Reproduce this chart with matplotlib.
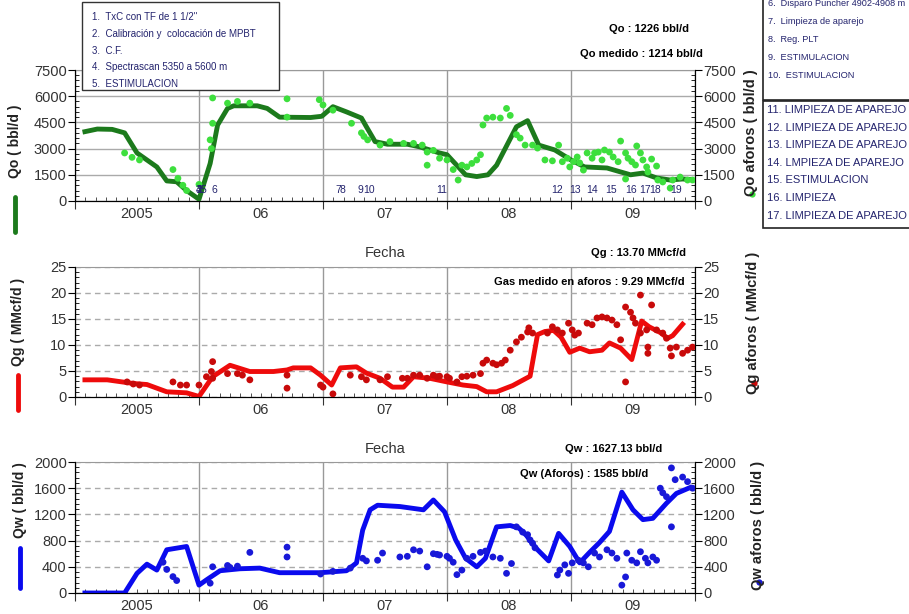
import matplotlib
matplotlib.use('Agg')
import matplotlib.pyplot as plt
from matplotlib.lines import Line2D
from matplotlib.patches import Rectangle
from matplotlib.ticker import MultipleLocator, FixedLocator, NullFormatter
import numpy as np

plt.rcParams['font.family'] = ['Liberation Sans', 'DejaVu Sans']

# ---- data (decimal year, value) ----
years = [2005, 2006, 2007, 2008, 2009]
year_labels = ['2005', '06', '07', '08', '09']

qo_line = [
    (2005.08, 3970), (2005.18, 4120), (2005.30, 4100), (2005.40, 3900), (2005.50, 2750),
    (2005.66, 1950), (2005.74, 1150), (2005.82, 1100), (2005.90, 600), (2006.00, 100),
    (2006.09, 2150), (2006.15, 4350), (2006.23, 5300), (2006.28, 5450), (2006.47, 5450),
    (2006.55, 5300), (2006.65, 4800), (2006.90, 4780), (2006.99, 4850), (2007.08, 5400),
    (2007.19, 5100), (2007.31, 4750), (2007.35, 4250), (2007.42, 3400), (2007.52, 3250),
    (2007.68, 3250), (2007.78, 3100), (2007.94, 2750), (2008.00, 2650), (2008.15, 1500),
    (2008.24, 1400), (2008.33, 1500), (2008.40, 2050), (2008.56, 4250), (2008.65, 4600),
    (2008.74, 3200), (2008.87, 2920), (2009.00, 2350), (2009.11, 1950), (2009.29, 1890),
    (2009.48, 1500), (2009.58, 1600), (2009.69, 1320), (2009.80, 1200), (2009.90, 1260),
    (2009.97, 1226),
]
qo_aforos = [
    (2005.40, 2750), (2005.46, 2500), (2005.52, 2350), (2005.79, 1800), (2005.83, 1300),
    (2005.87, 900), (2005.90, 600), (2006.00, 950), (2006.09, 3500), (2006.10, 3000),
    (2006.11, 4450), (2006.11, 5900), (2006.23, 5600), (2006.31, 5700), (2006.41, 5600),
    (2006.71, 5850), (2006.71, 4800), (2006.97, 5800), (2007.00, 5500), (2007.08, 5200),
    (2007.23, 4450), (2007.31, 3900), (2007.33, 3700), (2007.36, 3500), (2007.46, 3200),
    (2007.54, 3400), (2007.65, 3300), (2007.73, 3300), (2007.80, 3200), (2007.84, 2800),
    (2007.84, 2050), (2007.89, 2900), (2007.94, 2450), (2008.00, 2350), (2008.05, 1800),
    (2008.09, 1200), (2008.12, 2050), (2008.16, 1950), (2008.20, 2150), (2008.24, 2350),
    (2008.27, 2650), (2008.29, 4350), (2008.32, 4750), (2008.37, 4800), (2008.43, 4750),
    (2008.48, 5300), (2008.51, 4900), (2008.56, 3800), (2008.59, 3600), (2008.63, 3200),
    (2008.69, 3200), (2008.73, 3030), (2008.79, 2350), (2008.85, 2300), (2008.90, 3200),
    (2008.93, 2250), (2008.97, 2450), (2008.99, 1950), (2009.02, 2250), (2009.05, 2520),
    (2009.07, 2180), (2009.10, 1770), (2009.13, 2750), (2009.17, 2450), (2009.19, 2750),
    (2009.22, 2800), (2009.25, 2350), (2009.27, 2920), (2009.31, 2800), (2009.34, 2520),
    (2009.38, 2250), (2009.40, 3430), (2009.44, 2750), (2009.44, 1260), (2009.46, 2450),
    (2009.49, 2250), (2009.52, 2060), (2009.53, 3150), (2009.56, 2750), (2009.58, 2350),
    (2009.61, 1950), (2009.62, 1660), (2009.65, 2400), (2009.69, 2000), (2009.70, 1200),
    (2009.74, 1090), (2009.80, 740), (2009.82, 1200), (2009.88, 1370), (2009.94, 1200),
    (2009.98, 1200),
]

qg_line = [
    (2005.08, 3.3), (2005.26, 3.3), (2005.47, 2.6), (2005.58, 2.4), (2005.74, 1.0),
    (2005.90, 0.8), (2006.00, 0.1), (2006.11, 3.9), (2006.25, 6.1), (2006.41, 4.9),
    (2006.60, 4.9), (2006.71, 5.2), (2006.76, 5.6), (2006.90, 5.6), (2006.98, 4.2),
    (2007.07, 2.3), (2007.14, 5.6), (2007.27, 5.8), (2007.35, 4.6), (2007.46, 3.6),
    (2007.56, 1.9), (2007.65, 1.9), (2007.73, 3.9), (2007.86, 3.6), (2008.00, 2.9),
    (2008.13, 2.3), (2008.24, 2.0), (2008.32, 1.0), (2008.40, 1.0), (2008.53, 2.2),
    (2008.67, 4.0), (2008.73, 12.0), (2008.79, 12.6), (2008.86, 12.8), (2008.92, 11.5),
    (2008.99, 8.6), (2009.07, 9.4), (2009.15, 8.7), (2009.25, 9.0), (2009.31, 10.4),
    (2009.40, 9.4), (2009.49, 7.2), (2009.57, 14.6), (2009.63, 13.5), (2009.72, 12.4),
    (2009.78, 11.3), (2009.82, 11.8), (2009.90, 14.0),
]
qg_aforos = [
    (2005.42, 2.9), (2005.47, 2.5), (2005.52, 2.3), (2005.79, 2.9), (2005.85, 2.3),
    (2005.90, 2.3), (2006.00, 2.3), (2006.06, 3.9), (2006.10, 4.9), (2006.11, 6.8),
    (2006.11, 3.6), (2006.23, 4.5), (2006.31, 4.5), (2006.35, 4.2), (2006.41, 3.3),
    (2006.71, 4.2), (2006.71, 1.7), (2006.98, 2.3), (2007.00, 1.9), (2007.08, 0.6),
    (2007.22, 4.2), (2007.31, 3.9), (2007.35, 3.3), (2007.46, 3.3), (2007.52, 3.9),
    (2007.64, 3.6), (2007.68, 3.6), (2007.73, 4.2), (2007.78, 4.2), (2007.84, 3.6),
    (2007.89, 4.2), (2007.92, 3.9), (2007.94, 4.0), (2008.00, 3.9), (2008.02, 3.6),
    (2008.08, 2.9), (2008.12, 3.9), (2008.16, 4.0), (2008.21, 4.2), (2008.27, 4.5),
    (2008.29, 6.5), (2008.32, 7.1), (2008.37, 6.5), (2008.40, 6.2), (2008.44, 6.5),
    (2008.47, 7.1), (2008.51, 9.0), (2008.56, 10.6), (2008.60, 11.5), (2008.65, 12.5),
    (2008.66, 13.3), (2008.69, 12.3), (2008.81, 12.3), (2008.85, 13.5), (2008.89, 12.9),
    (2008.93, 12.3), (2008.98, 14.2), (2009.01, 12.9), (2009.03, 11.9), (2009.06, 12.3),
    (2009.13, 14.2), (2009.17, 13.9), (2009.21, 15.2), (2009.25, 15.4), (2009.29, 15.2),
    (2009.33, 14.8), (2009.37, 13.9), (2009.40, 11.0), (2009.44, 17.3), (2009.48, 16.3),
    (2009.44, 2.9), (2009.50, 15.2), (2009.52, 14.2), (2009.56, 19.6), (2009.56, 12.3),
    (2009.61, 12.9), (2009.62, 9.6), (2009.62, 8.4), (2009.65, 17.7), (2009.69, 12.9),
    (2009.74, 12.3), (2009.77, 11.3), (2009.80, 9.4), (2009.81, 7.9), (2009.85, 9.6),
    (2009.90, 8.4), (2009.94, 9.0), (2009.98, 9.6),
]

qw_line = [
    (2005.08, 0), (2005.40, 0), (2005.50, 300), (2005.58, 440), (2005.66, 350),
    (2005.74, 660), (2005.90, 710), (2006.00, 120), (2006.06, 200), (2006.17, 340),
    (2006.33, 370), (2006.49, 380), (2006.65, 310), (2006.98, 310), (2007.19, 340),
    (2007.27, 460), (2007.32, 960), (2007.38, 1270), (2007.44, 1340), (2007.62, 1320),
    (2007.81, 1270), (2007.89, 1420), (2007.98, 1240), (2008.07, 810), (2008.15, 530),
    (2008.24, 400), (2008.31, 530), (2008.40, 1010), (2008.51, 1030), (2008.58, 990),
    (2008.64, 880), (2008.72, 680), (2008.82, 490), (2008.90, 910), (2008.99, 710),
    (2009.07, 460), (2009.15, 620), (2009.23, 770), (2009.31, 940), (2009.41, 1540),
    (2009.50, 1270), (2009.58, 1120), (2009.66, 1140), (2009.77, 1370), (2009.85, 1520),
    (2009.96, 1610),
]
qw_aforos = [
    (2005.71, 470), (2005.74, 360), (2005.79, 250), (2005.82, 190), (2006.09, 150),
    (2006.11, 400), (2006.23, 420), (2006.25, 390), (2006.31, 410), (2006.41, 620),
    (2006.71, 700), (2006.71, 550), (2006.98, 290), (2007.08, 330), (2007.22, 380),
    (2007.32, 530), (2007.35, 490), (2007.44, 500), (2007.48, 610), (2007.62, 550),
    (2007.68, 560), (2007.73, 660), (2007.78, 640), (2007.84, 400), (2007.89, 600),
    (2007.92, 590), (2007.94, 580), (2008.00, 560), (2008.02, 530), (2008.05, 470),
    (2008.08, 280), (2008.12, 350), (2008.16, 530), (2008.21, 560), (2008.27, 620),
    (2008.31, 640), (2008.37, 550), (2008.43, 530), (2008.48, 300), (2008.52, 450),
    (2008.56, 1010), (2008.61, 930), (2008.65, 890), (2008.67, 810), (2008.69, 760),
    (2008.71, 690), (2008.89, 275), (2008.91, 350), (2008.95, 430), (2008.98, 300),
    (2009.01, 460), (2009.06, 500), (2009.10, 460), (2009.14, 400), (2009.19, 610),
    (2009.23, 550), (2009.29, 660), (2009.33, 610), (2009.37, 530), (2009.41, 120),
    (2009.44, 245), (2009.45, 610), (2009.49, 500), (2009.53, 460), (2009.56, 630),
    (2009.60, 530), (2009.62, 460), (2009.66, 550), (2009.69, 500), (2009.72, 1600),
    (2009.74, 1530), (2009.77, 1470), (2009.81, 1910), (2009.81, 1010), (2009.84, 1730),
    (2009.90, 1770), (2009.94, 1700), (2009.98, 1600),
]

event_nums = ['1', '2', '3', '4', '5', '6', '7', '8', '9', '10', '11', '12', '13',
              '14', '15', '16', '17', '18', '19']
event_dates = [2006.00, 2006.00, 2006.00, 2006.00, 2006.035, 2006.12, 2007.12, 2007.16,
               2007.30, 2007.37, 2007.96, 2008.89, 2009.03, 2009.17, 2009.32, 2009.48,
               2009.60, 2009.68, 2009.85]

box1_items = ['1.  TxC con TF de 1 1/2"', '2.  Calibración y  colocación de MPBT', '3.  C.F.',
              '4.  Spectrascan 5350 a 5600 m', '5.  ESTIMULACION']
box2_items = ['6.  Disparo Puncher 4902-4908 m', '7.  Limpieza de aparejo', '8.  Reg. PLT',
              '9.  ESTIMULACION', '10.  ESTIMULACION']
box3_items = ['11. LIMPIEZA DE APAREJO', '12. LIMPIEZA DE APAREJO', '13. LIMPIEZA DE APAREJO',
              '14. LMPIEZA DE APAREJO', '15. ESTIMULACION', '16. LIMPIEZA',
              '17. LIMPIEZA DE APAREJO']

W, H = 909, 614
NAVY = '#24246e'


def fx(x):
    return x / W


def fy(y):
    return 1 - y / H


def setup_panel(ax, ymax, ystep, hgrid_ls, xlabel=True):
    ax.set_xlim(2005, 2010)
    ax.set_ylim(0, ymax)
    ax.xaxis.set_major_locator(FixedLocator([2005, 2006, 2007, 2008, 2009, 2010]))
    ax.xaxis.set_major_formatter(NullFormatter())
    ax.xaxis.set_minor_locator(MultipleLocator(1 / 12))
    ax.tick_params(axis='x', which='major', direction='out', length=6, color='#333333')
    ax.tick_params(axis='x', which='minor', direction='in', length=3, color='#333333')
    ax.yaxis.set_major_locator(MultipleLocator(ystep))
    ax.yaxis.set_minor_locator(MultipleLocator(ystep / 5))
    ax.tick_params(axis='y', which='major', direction='out', length=5, labelsize=10.5,
                   labelcolor='#333333', pad=1)
    ax.tick_params(axis='y', which='minor', direction='in', length=3)
    for yr, lab in zip(years, year_labels):
        ax.text(yr + 0.5, -0.045, lab, transform=ax.get_xaxis_transform(),
                ha='center', va='top', fontsize=10.5, color='#333333')
    ax.grid(axis='x', which='major', color='#999999', lw=1, ls='-')
    ax.grid(axis='y', which='major', color='#aaaaaa', lw=1, ls=hgrid_ls)
    ax.spines['top'].set_color('#999999')
    if xlabel:
        ax.set_xlabel('Fecha', fontsize=10.5, color='#333333', labelpad=23)


def right_axis(ax, ymax, ystep):
    ax2 = ax.twinx()
    ax2.set_ylim(0, ymax)
    ax2.yaxis.set_major_locator(MultipleLocator(ystep))
    ax2.yaxis.set_minor_locator(MultipleLocator(ystep / 5))
    ax2.tick_params(axis='y', which='major', direction='out', length=5, labelsize=10.5,
                    labelcolor='#333333', pad=1)
    ax2.tick_params(axis='y', which='minor', direction='in', length=3)
    ax2.spines['top'].set_visible(False)
    return ax2


fig = plt.figure(figsize=(W / 100, H / 100), dpi=100)

panels = [
    # line, points, line colour, point colour, ymax, step, grid style, ax top/bottom px
    (qo_line, qo_aforos, '#1c7a1c', '#3ddf3d', 7500, 1500, '-', 70, 201),
    (qg_line, qg_aforos, '#ee0b0b', '#c80a0a', 25, 5, (0, (4, 3)), 267, 397),
    (qw_line, qw_aforos, '#0a0aee', '#1818d8', 2000, 400, (0, (4, 3)), 462, 593),
]
axes = []
for i, (line, pts, lc, pc, ymax, step, gls, ytop, ybot) in enumerate(panels):
    ax = fig.add_axes([fx(75), fy(ybot), fx(695) - fx(75), fy(ytop) - fy(ybot)])
    setup_panel(ax, ymax, step, gls, xlabel=(i < 2))
    ax2 = right_axis(ax, ymax, step)
    lt, lv = zip(*line)
    ax2.plot(lt, lv, color=lc, lw=3.5, solid_joinstyle='round', zorder=2)
    pt, pv = zip(*pts)
    ax2.scatter(pt, pv, s=24, color=pc, edgecolors='none', zorder=3)
    axes.append((ax, ax2))

# event numbers on the Qo panel
ax_top = axes[0][1]
for num, d in zip(event_nums, event_dates):
    ax_top.text(d, 630, num, ha='center', va='center', fontsize=7.5, color=NAVY, zorder=5)

# value annotations
fig.text(fx(689), fy(29), 'Qo : 1226 bbl/d', ha='right', va='center', fontsize=8, fontweight='bold')
fig.text(fx(703), fy(54), 'Qo medido : 1214 bbl/d', ha='right', va='center', fontsize=8, fontweight='bold')
fig.text(fx(686), fy(253), 'Qg : 13.70 MMcf/d', ha='right', va='center', fontsize=8, fontweight='bold')
fig.text(fx(685), fy(282), 'Gas medido en aforos : 9.29 MMcf/d', ha='right', va='center',
         fontsize=8, fontweight='bold')
fig.text(fx(662), fy(449), 'Qw : 1627.13 bbl/d', ha='right', va='center', fontsize=8, fontweight='bold')
fig.text(fx(648), fy(474), 'Qw (Aforos) : 1585 bbl/d', ha='right', va='center', fontsize=8,
         fontweight='bold')

# left axis titles with legend strokes
left_titles = [('Qo ( bbl/d )', 15, 141, 197, 232, '#1c7a1c'),
               ('Qg ( MMcf/d )', 18, 322, 375, 410, '#ee0b0b'),
               ('Qw ( bbl/d )', 20, 500, 548, 588, '#0a0aee')]
for txt, x, yc, y0, y1, c in left_titles:
    fig.text(fx(x), fy(yc), txt, rotation=90, ha='center', va='center', fontsize=10,
             fontweight='bold', color='#222222')
    fig.add_artist(Line2D([fx(x), fx(x)], [fy(y0), fy(y1)], color=c, lw=3.5,
                          solid_capstyle='round'))

# right axis titles with marker dots
right_titles = [('Qo aforos ( bbl/d )', 751, 133, 194, '#3ddf3d'),
                ('Qg aforos ( MMcf/d )', 753, 323, 383, '#c80a0a'),
                ('Qw aforos ( bbl/d )', 758, 525, 582, '#1818d8')]
for txt, x, yc, ydot, c in right_titles:
    fig.text(fx(x), fy(yc), txt, rotation=90, ha='center', va='center', fontsize=10.5,
             fontweight='bold', color='#222222')
    fig.add_artist(Line2D([fx(x + 1)], [fy(ydot)], marker='o', ms=4.5, color=c, mec='none'))

# event description boxes
fig.add_artist(Rectangle((fx(82), fy(90)), fx(279) - fx(82), fy(2) - fy(90),
                         transform=fig.transFigure, fc='white', ec='#333333', lw=1, zorder=4))
for k, item in enumerate(box1_items):
    fig.text(fx(92), fy(17 + k * 16.8), item, ha='left', va='center', fontsize=7, color=NAVY,
             zorder=5)

fig.add_artist(Rectangle((fx(763), fy(100)), fx(930) - fx(763), fy(-5) - fy(100),
                         transform=fig.transFigure, fc='white', ec='#222222', lw=1.2, zorder=4))
for k, item in enumerate(box2_items):
    fig.text(fx(768), fy(4 + k * 18), item, ha='left', va='center', fontsize=6.6, color=NAVY,
             zorder=5)

fig.add_artist(Rectangle((fx(763), fy(228)), fx(930) - fx(763), fy(101) - fy(228),
                         transform=fig.transFigure, fc='white', ec='#222222', lw=1.2, zorder=4))
for k, item in enumerate(box3_items):
    fig.text(fx(767), fy(110 + k * 17.6), item, ha='left', va='center', fontsize=8, color=NAVY,
             zorder=5)

fig.savefig('out.png', dpi=100)
